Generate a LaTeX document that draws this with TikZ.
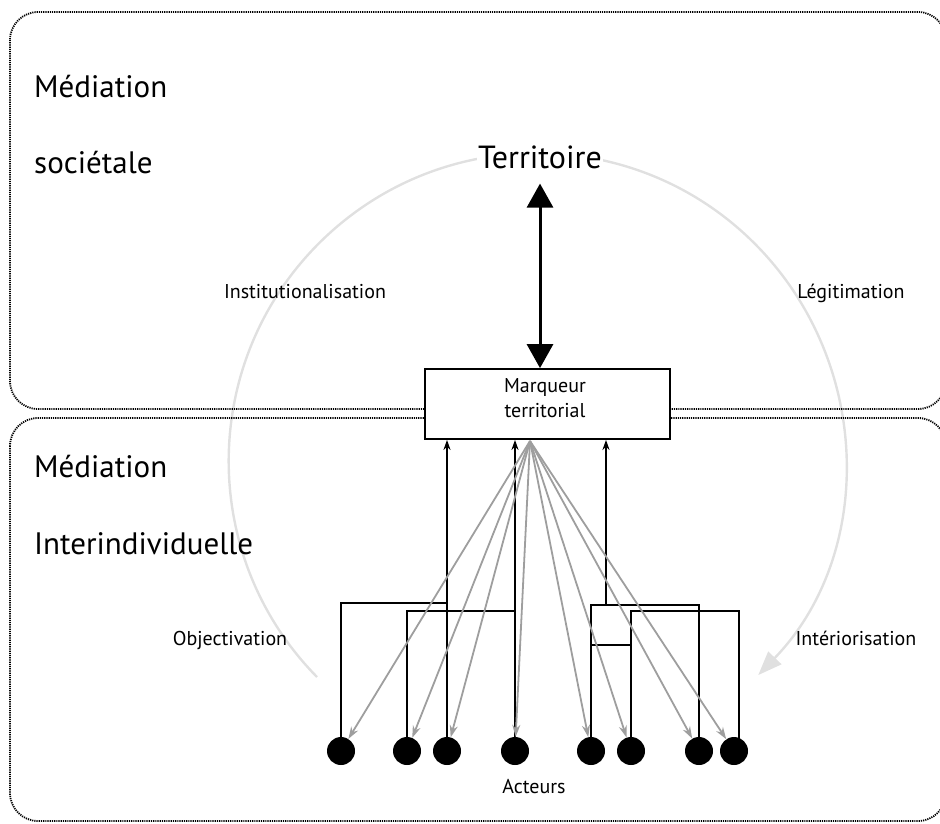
\documentclass[tikz,border=0pt]{standalone}
\usepackage{fontspec}
\setmainfont{PT Sans}
\usetikzlibrary{arrows.meta}
\begin{document}
\begin{tikzpicture}[x=1pt,y=-1pt,
  zone/.style={draw=black, line width=1.8pt, dash pattern=on 1.2pt off 1pt, rounded corners=28pt},
  big/.style={font=\fontsize{31}{36}\selectfont, inner sep=0pt, anchor=base west},
  small/.style={font=\fontsize{20}{24}\selectfont, inner sep=0pt, anchor=base},
  actor/.style={circle, fill=black, minimum size=28pt, inner sep=0pt},
  tree/.style={draw=black, line width=2.2pt},
  up/.style={tree, -{Stealth[length=10pt,width=7pt]}},
  fan/.style={draw=black!38, line width=1.8pt, -{Stealth[length=12pt,width=8pt]}},
  dbl/.style={draw=black, line width=3pt, {Triangle[length=24pt,width=26pt]}-{Triangle[length=24pt,width=26pt]}},
  cycle/.style={draw=black!12, line width=2.4pt, -{Triangle[length=24pt,width=18pt]}},
]
\useasboundingbox (0,0) rectangle (940,823);
% gray cycle
\draw[cycle] (317,677) arc[start angle=224.5, end angle=-44, radius=308pt];
% zones
\draw[zone] (10,12) rectangle (946,409);
\draw[zone] (10,418) rectangle (946,821);
% labels
\node[big] (ms1) at (34,97) {Médiation};
\node[big] (ms2) at (34,173) {sociétale};
\node[big] (mi1) at (34,477) {Médiation};
\node[big] (mi2) at (34,554) {Interindividuelle};
\node[small] (inst) at (305,298) {Institutionalisation};
\node[small] (legi) at (851,298) {Légitimation};
\node[small] (obje) at (230,645) {Objectivation};
\node[small] (inte) at (856,645) {Intériorisation};
\node[small] (acte) at (534,793) {Acteurs};
% territoire and marker
\node[font=\fontsize{32}{37}\selectfont, fill=white, inner sep=1pt, anchor=base] (terr) at (540,168) {Territoire};
\node[draw=black, fill=white, line width=1.8pt, minimum width=245pt, minimum height=70pt, inner sep=0pt] (mark) at (547.5,404) {};
\node[small] (mk1) at (545,392) {Marqueur};
\node[small] (mk2) at (545,417) {territorial};
\draw[dbl] ([yshift=-14pt]terr.south) -- (terr.south |- mark.north);
% actors
\coordinate (p1) at (341,751);
\coordinate (p2) at (407,751);
\coordinate (p3) at (447,751);
\coordinate (p4) at (515,751);
\coordinate (p5) at (591,751);
\coordinate (p6) at (631,751);
\coordinate (p7) at (699,751);
\coordinate (p8) at (734,751);
% trees
\coordinate (j1) at (447,603);
\coordinate (j2) at (515,611);
\coordinate (j3) at (606,605);
\coordinate (j4) at (739,611);
\coordinate (k) at (0,645);
\draw[tree] (p1) |- (j1);
\draw[up] (p3) -- (p3 |- mark.south);
\draw[tree] (p2) |- (j2);
\draw[up] (p4) -- (p4 |- mark.south);
\draw[up] (j3) -- (j3 |- mark.south);
\draw[tree] (p5) |- (p7 |- j3) -- (p7);
\draw[tree] (p6) |- (j4) -- (j4 |- p8);
\draw[tree] (p5 |- k) -- (p6 |- k);
\foreach \i in {1,...,8} \node[actor] (a\i) at (p\i) {};
% fan
\coordinate (src) at (530,441);
\foreach \i in {1,...,8} \draw[fan] (src) -- (a\i);
\end{tikzpicture}
\end{document}
